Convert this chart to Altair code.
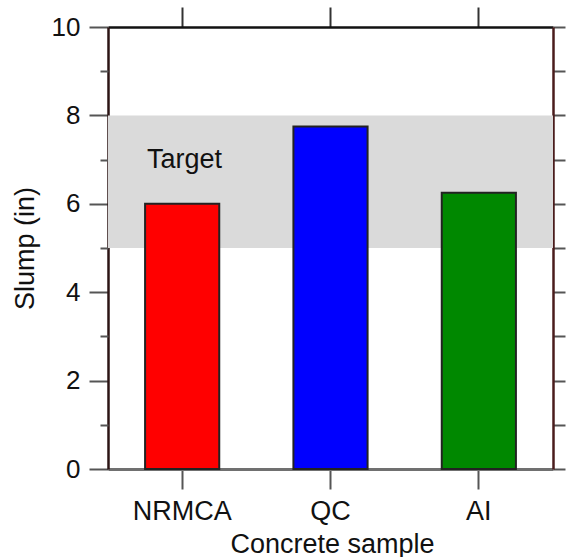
import altair as alt
import pandas as pd

categories = ["NRMCA", "QC", "AI"]
slump = [6.0, 7.75, 6.25]
bar_colors = ["#ff0000", "#0000ff", "#008800"]
target_low = [5]
target_high = [8]
target_label = ["Target"]
major_ticks = [0, 2, 4, 6, 8, 10]
minor_ticks = [1, 3, 5, 7, 9]
all_ticks = list(range(0, 11))

bars_df = pd.DataFrame({"sample": categories, "slump": slump, "color": bar_colors})
band_df = pd.DataFrame({"lo": target_low, "hi": target_high, "label": target_label})

W, H = 445, 442
FONT = "Liberation Sans"
FS = 27
yscale = alt.Scale(domain=[0, 10], nice=False, zero=True)
xscale = alt.Scale(domain=categories, paddingInner=0.5, paddingOuter=0.25)

band = alt.Chart(band_df).mark_rect(color="#dadada").encode(
    y=alt.Y("lo:Q", scale=yscale, axis=alt.Axis(
        orient="left", values=major_ticks, tickSize=19, labelPadding=9,
        domainColor="#2b1414", domainWidth=2.5, tickColor="#555", tickWidth=2,
        labelFontSize=26, labelFont=FONT, labelColor="#111", grid=False,
        title="Slump (in)", titleFont=FONT, titleFontSize=FS, titleFontWeight="normal",
        titleColor="#111", titleX=-75, titleY=H / 2, titleBaseline="alphabetic")),
    y2="hi:Q",
    x=alt.value(0),
    x2=alt.value(W),
)

minor_left = alt.Chart(band_df).mark_rect(opacity=0).encode(
    y=alt.Y("lo:Q", scale=yscale, axis=alt.Axis(
        orient="left", values=minor_ticks, tickSize=8, labels=False, domain=False,
        tickColor="#555", tickWidth=2, grid=False, title=None)),
    y2="hi:Q",
    x=alt.value(0),
    x2=alt.value(1),
)

right_axis = alt.Chart(band_df).mark_rect(opacity=0).encode(
    y=alt.Y("lo:Q", scale=yscale, axis=alt.Axis(
        orient="right", values=all_ticks, tickSize=12, labels=False,
        domainColor="#4a1c1c", domainWidth=2.5, tickColor="#555", tickWidth=2,
        grid=False, title=None)),
    y2="hi:Q",
    x=alt.value(0),
    x2=alt.value(1),
)

bars = alt.Chart(bars_df).mark_bar(stroke="#222", strokeWidth=2).encode(
    x=alt.X("sample:N", scale=xscale, sort=categories, axis=alt.Axis(
        orient="bottom", labelAngle=0, tickSize=20, labelPadding=9,
        domainColor="#707070", domainWidth=3, tickColor="#555", tickWidth=2,
        labelFontSize=FS, labelFont=FONT, labelColor="#111", grid=False,
        title="Concrete sample", titleFont=FONT, titleFontSize=FS,
        titleFontWeight="normal", titleColor="#111", titleX=224, titleY=83,
        titleBaseline="alphabetic")),
    y=alt.Y("slump:Q", scale=yscale, axis=None),
    color=alt.Color("color:N", scale=None),
)

top_axis = alt.Chart(bars_df).mark_point(opacity=0).encode(
    x=alt.X("sample:N", scale=xscale, sort=categories, axis=alt.Axis(
        orient="top", labels=False, tickSize=20, domainColor="#111",
        domainWidth=2.5, tickColor="#333", tickWidth=2, grid=False, title=None)),
    y=alt.Y("slump:Q", scale=yscale, axis=None),
)

label = alt.Chart(band_df).mark_text(
    align="left", baseline="middle", fontSize=FS, font=FONT, color="#111", dx=2
).encode(
    x=alt.X(datum="NRMCA", scale=xscale, bandPosition=0, axis=None),
    y=alt.Y(datum=7, scale=yscale, axis=None),
    text="label:N",
)

chart = alt.layer(band, minor_left, right_axis, bars, top_axis, label).resolve_axis(
    x="independent", y="independent"
).properties(
    width=W, height=H,
    autosize=alt.AutoSizeParams(type="none"),
    padding={"left": 108, "top": 27, "right": 13, "bottom": 88},
    background="white",
).configure_view(stroke=None)

chart.save("out.html", embed_options={"renderer": "svg", "actions": False})
